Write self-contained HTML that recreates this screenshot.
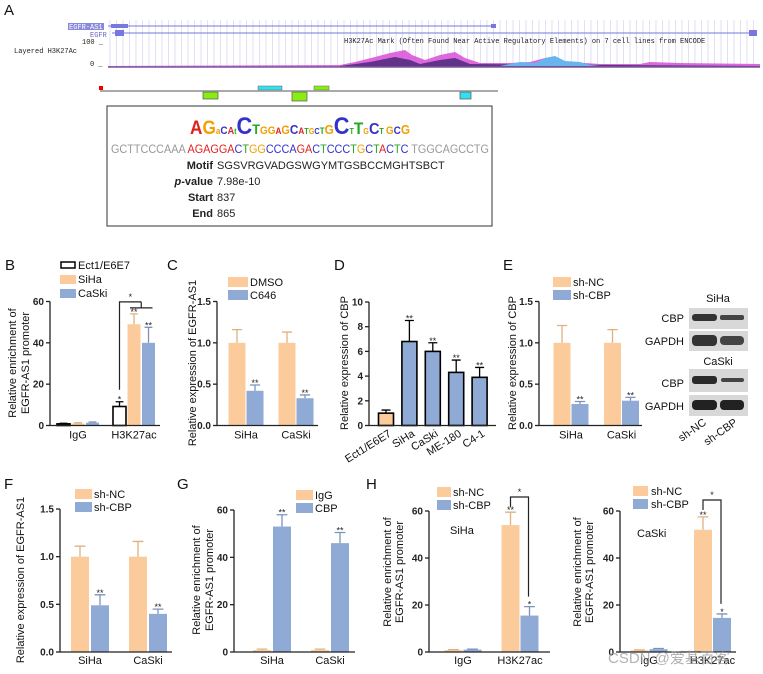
<!DOCTYPE html>
<html><head><meta charset="utf-8">
<style>
html,body{margin:0;padding:0;background:#fff;}
svg{display:block;font-family:"Liberation Sans",Arial,sans-serif;}
.tick{font-size:10px;font-weight:bold;fill:#222;}
.cat{font-size:11px;fill:#111;}
.ttl{font-size:11px;fill:#111;}
.leg{font-size:11px;fill:#111;}
.pl{font-size:15px;fill:#111;}
.mono{font-family:"Liberation Mono",monospace;font-size:7px;fill:#222;}
</style></head>
<body>
<svg id="fig" width="763" height="674" viewBox="0 0 763 674" xmlns="http://www.w3.org/2000/svg">
<g>
<text class="pl" x="4" y="15">A</text>
<g id="gridA"></g>
<rect x="68" y="23" width="36" height="7" fill="#8888dd"/>
<text class="mono" x="69" y="29" style="fill:#fff">EGFR-AS1</text>
<text class="mono" x="90" y="37" style="fill:#6666cc">EGFR</text>
<line x1="108" y1="26" x2="494" y2="26" stroke="#7777dd" stroke-width="1"/>
<rect x="111" y="24" width="17" height="4" fill="#7777dd"/>
<rect x="491" y="24" width="5" height="4" fill="#7777dd"/>
<line x1="112" y1="33" x2="757" y2="33" stroke="#7777dd" stroke-width="1"/>
<rect x="115" y="30" width="9" height="6" fill="#7777dd"/>
<rect x="749" y="30" width="8" height="6" fill="#7777dd"/>
<text class="mono" x="82" y="44">100 _</text>
<text class="mono" x="14" y="53">Layered H3K27Ac</text>
<text class="mono" x="90" y="66">0 _</text>
<text class="mono" x="344" y="43">H3K27Ac Mark (Often Found Near Active Regulatory Elements) on 7 cell lines from ENCODE</text>
<path d="M108,66 L340,65 L355,62 L375,57 L390,53 L405,50 L412,55 L425,60 L440,55 L455,52 L465,58 L480,63 L510,63 L530,62 L545,58 L552,60 L570,62 L600,64 L640,64 L650,62 L680,63 L760,64 L760,67 L108,67 Z" fill="#d84fd8" opacity="0.85"/>
<path d="M340,66 L370,62 L395,57 L410,60 L420,64 L440,60 L455,58 L470,64 L760,66 L760,67 L340,67 Z" fill="#4b2a7a" opacity="0.85"/>
<path d="M500,66 L520,62 L535,63 L545,58 L555,56 L565,61 L580,62 L590,65 L600,66 Z" fill="#6ab4ee"/>
<line x1="108" y1="67" x2="760" y2="67" stroke="#7a5aa0" stroke-width="1.5"/>
<line x1="100" y1="91" x2="498" y2="91" stroke="#aaa" stroke-width="2"/>
<rect x="99" y="86" width="4" height="4" fill="#e00"/>
<rect x="258" y="86" width="24" height="4" fill="#33e0f0" stroke="#666" stroke-width="0.5"/>
<rect x="314" y="86" width="15" height="4" fill="#88ee11" stroke="#666" stroke-width="0.5"/>
<rect x="203" y="92" width="15" height="7" fill="#88ee11" stroke="#555" stroke-width="0.7"/>
<rect x="292" y="92" width="15" height="9" fill="#88ee11" stroke="#555" stroke-width="0.7"/>
<rect x="460" y="92" width="11" height="7" fill="#33e0f0" stroke="#555" stroke-width="0.7"/>
<rect x="107" y="106" width="385" height="120" fill="#fff" stroke="#333" stroke-width="1"/>
<text x="190" y="134" font-size="19" font-weight="bold" textLength="220" lengthAdjust="spacingAndGlyphs"><tspan fill="#d22">A</tspan><tspan fill="#f0a000">G</tspan><tspan fill="#f0a000" font-size="9">a</tspan><tspan fill="#33c" font-size="11">C</tspan><tspan fill="#d22" font-size="10">A</tspan><tspan fill="#2a2" font-size="8">t</tspan><tspan fill="#33c" font-size="24">C</tspan><tspan fill="#2a2" font-size="14">T</tspan><tspan fill="#f0a000" font-size="11">GG</tspan><tspan fill="#d22" font-size="9">A</tspan><tspan fill="#f0a000" font-size="12">G</tspan><tspan fill="#33c" font-size="13">C</tspan><tspan fill="#d22" font-size="9">A</tspan><tspan fill="#2a2" font-size="8">T</tspan><tspan fill="#f0a000" font-size="8">G</tspan><tspan fill="#33c" font-size="8">C</tspan><tspan fill="#2a2" font-size="9">T</tspan><tspan fill="#f0a000" font-size="13">G</tspan><tspan fill="#33c" font-size="24">C</tspan><tspan fill="#2a2" font-size="8">T</tspan><tspan fill="#2a2" font-size="17">T</tspan><tspan fill="#f0a000" font-size="8">G</tspan><tspan fill="#33c" font-size="16">C</tspan><tspan fill="#2a2" font-size="8">T</tspan><tspan font-size="8"> </tspan><tspan fill="#f0a000" font-size="11">G</tspan><tspan fill="#33c" font-size="11">C</tspan><tspan fill="#f0a000" font-size="13">G</tspan></text>
<text x="111" y="153" font-size="11.5" textLength="378" lengthAdjust="spacingAndGlyphs"><tspan fill="#999">GCTTCCCAAA </tspan><tspan fill="#d22">AGAGGA</tspan><tspan fill="#33c">C</tspan><tspan fill="#2a2">T</tspan><tspan fill="#f0a000">GG</tspan><tspan fill="#33c">CCCA</tspan><tspan fill="#d22">GA</tspan><tspan fill="#33c">C</tspan><tspan fill="#2a2">T</tspan><tspan fill="#33c">CCC</tspan><tspan fill="#2a2">T</tspan><tspan fill="#f0a000">G</tspan><tspan fill="#33c">C</tspan><tspan fill="#2a2">T</tspan><tspan fill="#d22">A</tspan><tspan fill="#33c">C</tspan><tspan fill="#2a2">T</tspan><tspan fill="#33c">C</tspan><tspan fill="#999"> TGGCAGCCTG</tspan></text>
<g font-size="11" fill="#222">
<text x="213" y="169" text-anchor="end" font-weight="bold">Motif</text><text x="217" y="169">SGSVRGVADGSWGYMTGSBCCMGHTSBCT</text>
<text x="213" y="185" text-anchor="end" font-weight="bold"><tspan font-style="italic">p</tspan>-value</text><text x="217" y="185">7.98e-10</text>
<text x="213" y="201" text-anchor="end" font-weight="bold">Start</text><text x="217" y="201">837</text>
<text x="213" y="217" text-anchor="end" font-weight="bold">End</text><text x="217" y="217">865</text>
</g>
</g>

<text class="pl" x="5" y="270">B</text>
<text class="pl" x="167" y="270">C</text>
<text class="pl" x="334" y="270">D</text>
<text class="pl" x="503" y="270">E</text>
<text class="pl" x="4" y="489">F</text>
<text class="pl" x="177" y="489">G</text>
<text class="pl" x="366" y="489">H</text>

<g>
<rect x="61" y="262" width="14" height="6" fill="#fff" stroke="#000" stroke-width="1.5"/><text class="leg" x="78" y="269">Ect1/E6E7</text>
<rect x="60" y="275" width="16" height="9" fill="#FBCB9C"/><text class="leg" x="78" y="283">SiHa</text>
<rect x="60" y="289" width="16" height="9" fill="#8FAAD4"/><text class="leg" x="78" y="297">CaSki</text>
</g>
<g>
<rect x="228" y="277" width="20" height="10" fill="#FBCB9C"/><text class="leg" x="250" y="286">DMSO</text>
<rect x="228" y="290" width="20" height="10" fill="#8FAAD4"/><text class="leg" x="250" y="299">C646</text>
</g>
<g>
<rect x="553" y="277" width="18" height="10" fill="#FBCB9C"/><text class="leg" x="573" y="286">sh-NC</text>
<rect x="553" y="290" width="18" height="10" fill="#8FAAD4"/><text class="leg" x="573" y="299">sh-CBP</text>
</g>
<g>
<rect x="75" y="489" width="17" height="10" fill="#FBCB9C"/><text class="leg" x="94" y="498">sh-NC</text>
<rect x="75" y="502" width="17" height="10" fill="#8FAAD4"/><text class="leg" x="94" y="511">sh-CBP</text>
</g>
<g>
<rect x="296" y="490" width="17" height="10" fill="#FBCB9C"/><text class="leg" x="315" y="499">IgG</text>
<rect x="296" y="503" width="17" height="10" fill="#8FAAD4"/><text class="leg" x="315" y="512">CBP</text>
</g>
<g>
<rect x="437" y="487" width="14" height="10" fill="#FBCB9C"/><text class="leg" x="453" y="496">sh-NC</text>
<rect x="437" y="500" width="14" height="10" fill="#8FAAD4"/><text class="leg" x="453" y="509">sh-CBP</text>
</g>
<g>
<rect x="633" y="486" width="15" height="10" fill="#FBCB9C"/><text class="leg" x="651" y="495">sh-NC</text>
<rect x="633" y="499" width="15" height="10" fill="#8FAAD4"/><text class="leg" x="651" y="508">sh-CBP</text>
</g>
<text class="leg" x="450" y="534">SiHa</text>
<text class="leg" x="637" y="537">CaSki</text>

<text class="ttl" transform="translate(16,363) rotate(-90)" text-anchor="middle">Relative enrichment of</text>
<text class="ttl" transform="translate(29,363) rotate(-90)" text-anchor="middle">EGFR-AS1 promoter</text>
<text class="ttl" transform="translate(196,363) rotate(-90)" text-anchor="middle">Relative expression of EGFR-AS1</text>
<text class="ttl" transform="translate(348,363) rotate(-90)" text-anchor="middle">Relative expression of CBP</text>
<text class="ttl" transform="translate(516,363) rotate(-90)" text-anchor="middle">Relative expression of CBP</text>
<text class="ttl" transform="translate(24,580) rotate(-90)" text-anchor="middle">Relative expression of EGFR-AS1</text>
<text class="ttl" transform="translate(200,580) rotate(-90)" text-anchor="middle">Relative enrichment of</text>
<text class="ttl" transform="translate(213,580) rotate(-90)" text-anchor="middle">EGFR-AS1 promoter</text>
<text class="ttl" transform="translate(391,572) rotate(-90)" text-anchor="middle">Relative enrichment of</text>
<text class="ttl" transform="translate(403,572) rotate(-90)" text-anchor="middle">EGFR-AS1 promoter</text>
<text class="ttl" transform="translate(581,572) rotate(-90)" text-anchor="middle">Relative enrichment of</text>
<text class="ttl" transform="translate(593,572) rotate(-90)" text-anchor="middle">EGFR-AS1 promoter</text>

<g>
<text class="leg" x="718" y="302" text-anchor="middle">SiHa</text>
<rect x="689" y="308" width="59" height="21" fill="#d8d8d8"/>
<rect x="692" y="314" width="25" height="7" rx="3" fill="#333"/>
<rect x="720" y="315" width="24" height="5" rx="2" fill="#444"/>
<rect x="689" y="331" width="59" height="20" fill="#d8d8d8"/>
<rect x="692" y="335" width="25" height="11" rx="4" fill="#333"/>
<rect x="720" y="336" width="24" height="9" rx="4" fill="#444"/>
<text class="leg" x="718" y="365" text-anchor="middle">CaSki</text>
<rect x="689" y="369" width="59" height="23" fill="#d8d8d8"/>
<rect x="692" y="376" width="25" height="8" rx="3" fill="#2a2a2a"/>
<rect x="721" y="378" width="23" height="4" rx="2" fill="#444"/>
<rect x="689" y="395" width="59" height="21" fill="#d8d8d8"/>
<rect x="692" y="400" width="25" height="10" rx="4" fill="#222"/>
<rect x="720" y="400" width="24" height="10" rx="4" fill="#222"/>
<text class="leg" x="684" y="322" text-anchor="end">CBP</text>
<text class="leg" x="684" y="345" text-anchor="end">GAPDH</text>
<text class="leg" x="684" y="387" text-anchor="end">CBP</text>
<text class="leg" x="684" y="410" text-anchor="end">GAPDH</text>
<text class="leg" transform="translate(707,424) rotate(-35)" text-anchor="end">sh-NC</text>
<text class="leg" transform="translate(738,424) rotate(-35)" text-anchor="end">sh-CBP</text>
</g>
<g id="charts"></g>
<text x="608" y="663" font-size="15" fill="#999" opacity="0.75" style="font-family:'Liberation Sans','Noto Sans CJK SC',sans-serif">CSDN @爱基百客</text>
</svg>
<script>
// ---- Panel B data ----
const bCategories = ['IgG', 'H3K27ac'];
const bEct = [0.8, 9.2];
const bEctErr = [1.1, 11.5];
const bSiHa = [1.0, 49];
const bSiHaErr = [1.3, 54];
const bCaSki = [1.4, 40];
const bCaSkiErr = [1.7, 47.5];
const bTicks = [0, 20, 40, 60];
// ---- Panel C ----
const cCategories = ['SiHa', 'CaSki'];
const cDMSO = [1.0, 1.0];
const cDMSOErr = [1.16, 1.13];
const cC646 = [0.42, 0.33];
const cC646Err = [0.49, 0.37];
const cTicks = [0, 0.5, 1.0, 1.5];
// ---- Panel D ----
const dCategories = ['Ect1/E6E7', 'SiHa', 'CaSki', 'ME-180', 'C4-1'];
const dValues = [1.0, 6.8, 6.0, 4.3, 3.9];
const dErr = [1.25, 8.5, 6.7, 5.3, 4.7];
const dTicks = [0, 2, 4, 6, 8, 10];
// ---- Panel E ----
const eCategories = ['SiHa', 'CaSki'];
const eNC = [1.0, 1.0];
const eNCErr = [1.21, 1.16];
const eCBP = [0.26, 0.30];
const eCBPErr = [0.29, 0.34];
const eTicks = [0, 0.5, 1.0, 1.5];
// ---- Panel F ----
const fCategories = ['SiHa', 'CaSki'];
const fNC = [1.0, 1.0];
const fNCErr = [1.11, 1.16];
const fCBP = [0.49, 0.40];
const fCBPErr = [0.60, 0.45];
const fTicks = [0, 0.5, 1.0, 1.5];
// ---- Panel G ----
const gCategories = ['SiHa', 'CaSki'];
const gIgG = [0.8, 0.8];
const gIgGErr = [1.2, 1.2];
const gCBP = [53, 46];
const gCBPErr = [58, 50.5];
const gTicks = [0, 20, 40, 60];
// ---- Panel H SiHa ----
const h1Categories = ['IgG', 'H3K27ac'];
const h1NC = [0.8, 54];
const h1NCErr = [1.0, 59.5];
const h1CBP = [1.0, 15.5];
const h1CBPErr = [1.2, 19.3];
const hTicks = [0, 20, 40, 60];
// ---- Panel H CaSki ----
const h2Categories = ['IgG', 'H3K27ac'];
const h2NC = [0.7, 52];
const h2NCErr = [0.9, 57.5];
const h2CBP = [1.2, 14.5];
const h2CBPErr = [1.5, 16.2];

const NS = 'http://www.w3.org/2000/svg';
const root = document.getElementById('charts');
const ORANGE = '#FBCB9C', BLUE = '#8FAAD4';
function mk(tag, attrs, parent) {
  const e = document.createElementNS(NS, tag);
  for (const k in attrs) e.setAttribute(k, attrs[k]);
  (parent || root).appendChild(e);
  return e;
}
function fmt(v, dec) { return dec ? v.toFixed(dec) : String(v); }

function chart(o) {
  const g = mk('g', {});
  
  
  const ys = v => o.y0 - v / o.max * (o.y0 - o.y1);
  const band = (o.x1 - o.x0) / o.cats.length;
  const xc = i => o.x0 + (i + 0.5) * band;
  const m = o.series.length;
  const pos = {};
  o.series.forEach((s, j) => {
    const off = (j - (m - 1) / 2) * (o.bw + o.gap);
    s.vals.forEach((v, i) => {
      const cx = xc(i) + off;
      const fill = s.fills ? s.fills[i] : s.fill;
      const r = mk('rect', {x: cx - o.bw / 2, y: ys(v), width: o.bw, height: o.y0 - ys(v), fill: fill,
        stroke: s.stroke || 'none', 'stroke-width': s.stroke ? 1.6 : 0}, g);
      
      
      const ec = s.errColor || (s.stroke ? '#000' : fill === ORANGE ? '#e0b080' : '#7b93bc');
      const top = ys(s.errs[i]);
      const ln = mk('path', {d: 'M' + cx + ',' + ys(v) + 'V' + top + 'M' + (cx - o.bw * 0.3) + ',' + top + 'H' + (cx + o.bw * 0.3),
        stroke: ec, 'stroke-width': 1.3, fill: 'none'}, g);
      
      
      pos[s.key + i] = {x: cx, top: top};
      if (s.stars && s.stars[i]) {
        const t = mk('text', {x: cx, y: top + 1, 'text-anchor': 'middle', 'font-size': 9, fill: '#222'}, g);
        t.textContent = s.stars[i];
        
        
      }
    });
  });
  const ax = mk('path', {d: 'M' + o.axisX + ',' + ys(o.max) + 'V' + o.y0 + 'H' + o.axisEnd, stroke: '#222', 'stroke-width': 1.3, fill: 'none'}, g);
  
  
  o.ticks.forEach(t => {
    const tl = mk('line', {x1: o.axisX - 4, x2: o.axisX, y1: ys(t), y2: ys(t), stroke: '#222', 'stroke-width': 1.3}, g);
    
    
    const tx = mk('text', {x: o.axisX - 6, y: ys(t) + 3.5, 'text-anchor': 'end', class: 'tick'}, g);
    tx.textContent = fmt(t, o.dec);
    
    
  });
  o.cats.forEach((c, i) => {
    let tx;
    if (o.rotate) {
      tx = mk('text', {transform: 'translate(' + (xc(i) + 6) + ',' + (o.y0 + 10) + ') rotate(-32)', 'text-anchor': 'end', class: 'cat'}, g);
    } else {
      tx = mk('text', {x: xc(i), y: o.y0 + o.labDy, 'text-anchor': 'middle', class: 'cat'}, g);
    }
    tx.textContent = c;
    
    
  });
  return {ys, xc, pos, g};
}
function bracket(g, x1, x2, yTop, y1, y2, label) {
  const p = mk('path', {d: 'M' + x1 + ',' + y1 + 'V' + yTop + 'H' + x2 + 'V' + y2, stroke: '#222', 'stroke-width': 1.2, fill: 'none'}, g);
  
  
  const t = mk('text', {x: (x1 + x2) / 2, y: yTop - 2, 'text-anchor': 'middle', 'font-size': 9, fill: '#222'}, g);
  t.textContent = label;
  
  
}

const B = chart({name: 'chart-b', cats: bCategories, x0: 50, x1: 162, axisX: 50, axisEnd: 160, y0: 425.5, y1: 301.5, max: 60, ticks: bTicks, bw: 13, gap: 1.5, labDy: 13,
  series: [
    {key: 'ect', vals: bEct, errs: bEctErr, fill: '#fff', stroke: '#000', stars: ['', '*']},
    {key: 'siha', vals: bSiHa, errs: bSiHaErr, fill: ORANGE, stars: ['', '**']},
    {key: 'caski', vals: bCaSki, errs: bCaSkiErr, fill: BLUE, stars: ['', '**']}]});
{
  const xa = B.pos['ect1'].x, xs = B.pos['siha1'].x, xk = B.pos['caski1'].x;
  const yT = B.ys(bSiHaErr[1]) - 12;
  bracket(B.g, xa, (xs + xk) / 2, yT, B.ys(bEctErr[1]) - 12, yT, '*');
  const h = mk('line', {x1: xs - 4, x2: xk + 4, y1: yT + 6, y2: yT + 6, stroke: '#222', 'stroke-width': 1.2}, B.g);
  
  
  const v = mk('line', {x1: (xs + xk) / 2, x2: (xs + xk) / 2, y1: yT, y2: yT + 6, stroke: '#222', 'stroke-width': 1.2}, B.g);
  
  
}
chart({name: 'chart-c', cats: cCategories, x0: 221, x1: 321, axisX: 217, axisEnd: 318, y0: 425.5, y1: 301.5, max: 1.5, dec: 1, ticks: cTicks, bw: 17, gap: 1, labDy: 13,
  series: [
    {key: 'dmso', vals: cDMSO, errs: cDMSOErr, fill: ORANGE},
    {key: 'c646', vals: cC646, errs: cC646Err, fill: BLUE, stars: ['**', '**']}]});
chart({name: 'chart-d', cats: dCategories, x0: 374.3, x1: 491.3, axisX: 369, axisEnd: 496, y0: 425.5, y1: 302, max: 10, ticks: dTicks, bw: 15, gap: 0, rotate: true,
  series: [
    {key: 'cbp', vals: dValues, errs: dErr, fills: [ORANGE, BLUE, BLUE, BLUE, BLUE], stroke: '#000', stars: ['', '**', '**', '**', '**']}]});
chart({name: 'chart-e', cats: eCategories, x0: 545.75, x1: 646.75, axisX: 539, axisEnd: 642, y0: 425.5, y1: 301.5, max: 1.5, dec: 1, ticks: eTicks, bw: 17, gap: 1, labDy: 13,
  series: [
    {key: 'sh-nc', vals: eNC, errs: eNCErr, fill: ORANGE},
    {key: 'sh-cbp', vals: eCBP, errs: eCBPErr, fill: BLUE, stars: ['**', '**']}]});
chart({name: 'chart-f', cats: fCategories, x0: 61, x1: 177, axisX: 60, axisEnd: 172, y0: 652, y1: 509, max: 1.5, dec: 1, ticks: fTicks, bw: 18, gap: 2, labDy: 12,
  series: [
    {key: 'sh-nc', vals: fNC, errs: fNCErr, fill: ORANGE},
    {key: 'sh-cbp', vals: fCBP, errs: fCBPErr, fill: BLUE, stars: ['**', '**']}]});
chart({name: 'chart-g', cats: gCategories, x0: 243, x1: 359, axisX: 234, axisEnd: 355, y0: 652, y1: 510, max: 60, ticks: gTicks, bw: 18, gap: 2, labDy: 12,
  series: [
    {key: 'igg', vals: gIgG, errs: gIgGErr, fill: ORANGE},
    {key: 'cbp', vals: gCBP, errs: gCBPErr, fill: BLUE, stars: ['**', '**']}]});
const H1 = chart({name: 'chart-h-siha', cats: h1Categories, x0: 434.5, x1: 548.5, axisX: 429, axisEnd: 550, y0: 652, y1: 511, max: 60, ticks: hTicks, bw: 18, gap: 1, labDy: 12,
  series: [
    {key: 'sh-nc', vals: h1NC, errs: h1NCErr, fill: ORANGE, stars: ['', '**']},
    {key: 'sh-cbp', vals: h1CBP, errs: h1CBPErr, fill: BLUE, stars: ['', '*']}]});
bracket(H1.g, H1.pos['sh-nc1'].x, H1.pos['sh-cbp1'].x - 1, 497, 507, H1.ys(h1CBPErr[1]) - 10, '*');
const H2 = chart({name: 'chart-h-caski', cats: h2Categories, x0: 617.25, x1: 744.25, axisX: 620, axisEnd: 736, y0: 652, y1: 511, max: 60, ticks: hTicks, bw: 18, gap: 1, labDy: 12,
  series: [
    {key: 'sh-nc', vals: h2NC, errs: h2NCErr, fill: ORANGE, stars: ['', '**']},
    {key: 'sh-cbp', vals: h2CBP, errs: h2CBPErr, fill: BLUE, stars: ['', '*']}]});
bracket(H2.g, H2.pos['sh-nc1'].x, H2.pos['sh-cbp1'].x - 1, 500, 510, H2.ys(h2CBPErr[1]) - 10, '*');

const grid = document.getElementById('gridA');
for (let i = 0; i < 100; i++) {
  const x = 110 + i * 6.5;
  if (x > 760) break;
  const l = mk('line', {x1: x, x2: x, y1: 20, y2: 68, stroke: '#d8d8f4', 'stroke-width': 0.8}, grid);
  
  
}
</script>
</body></html>
